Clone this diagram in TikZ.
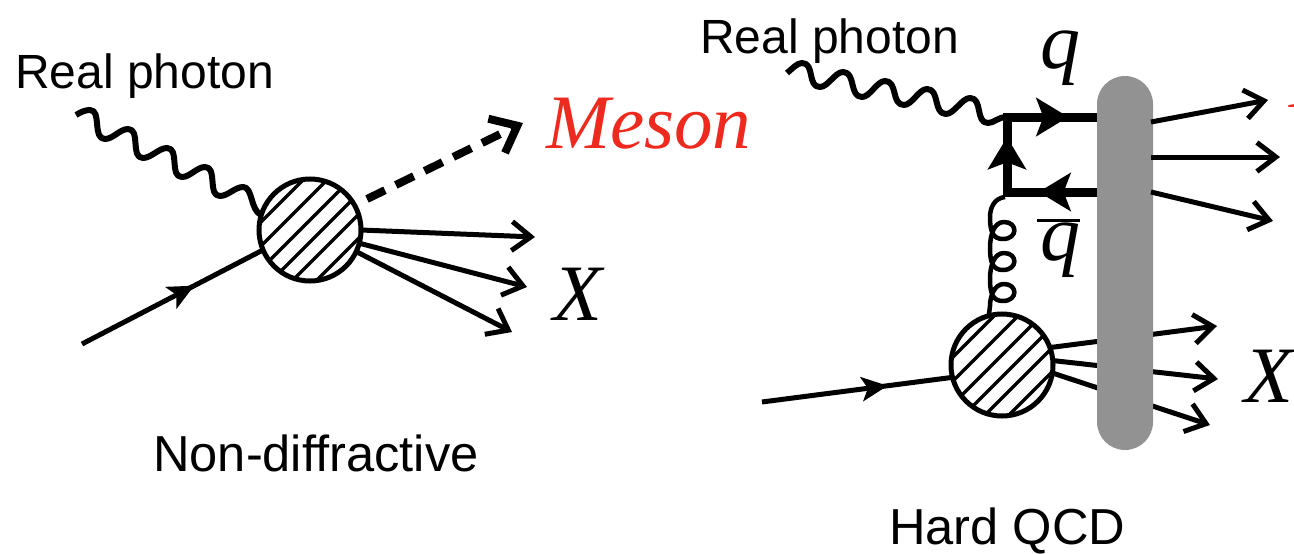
\documentclass[tikz,border=0pt]{standalone}
\usepackage{fontspec}
\setmainfont{Liberation Sans}
\newfontfamily\timesit{Liberation Serif}
\usetikzlibrary{arrows.meta,decorations.markings,calc}
\definecolor{barcol}{HTML}{929292}
\definecolor{mesonred}{HTML}{EE2A1E}
\tikzset{
  x=1pt,y=-1pt,
  ln/.style={line width=5pt},
  barb/.style={-{Straight Barb[length=19pt,width=29pt,line width=5pt]},line width=5pt},
  wave/.style={line width=6pt,line join=round},
  blob/.style={circle,draw,line width=5pt,fill=white,minimum size=102pt,inner sep=0pt,outer sep=0pt},
  hatchline/.style={line width=3.5pt},
  sanslabel/.style={font=\fontsize{48}{50}\selectfont,inner sep=0pt,anchor=base west},
  sanslarge/.style={font=\fontsize{50.6}{53}\selectfont,inner sep=0pt,anchor=base west},
  serlabel/.style={font=\fontsize{80}{84}\selectfont\timesit\itshape,inner sep=0pt,anchor=base west},
  meslabel/.style={font=\fontsize{77}{80}\selectfont\timesit\itshape,inner sep=0pt,anchor=base west,text=mesonred},
  midarrowL/.style={postaction={decorate},decoration={markings,mark=at position #1 with {\arrow{Stealth[length=26pt,width=24pt,inset=6pt]}}}},
  midarrowB/.style={postaction={decorate},decoration={markings,mark=at position #1 with {\arrow{Stealth[length=32pt,width=38pt,inset=7pt]}}}},
  quark/.style={line width=9pt},
}
\newcommand{\hatchblob}[1]{%
  \begin{scope}
    \clip (#1) circle[radius=50];
    \foreach \s in {-57,-33,-10,12,33,57}
      \draw[hatchline] ($(#1)+(\s/2-60,\s/2+60)$) -- ($(#1)+(\s/2+60,\s/2-60)$);
  \end{scope}}
\begin{document}
\begin{tikzpicture}
\useasboundingbox (0,0) rectangle (1294,554);
\clip (0,0) rectangle (1294,554);
% ---------- left diagram
\node[blob] (blobL) at (310,230) {};
\hatchblob{blobL}
\coordinate (waveLs) at (76,115);
\draw[wave] (waveLs) .. controls (81,112) and (85,110) .. (90,110)
  .. controls (102,110) and (92,139) .. (105,139)
  .. controls (113,139) and (120,129) .. (128,129)
  .. controls (141,129) and (130,158) .. (143,158)
  .. controls (151,158) and (159,148) .. (167,148)
  .. controls (180,148) and (169,177) .. (182,177)
  .. controls (190,177) and (197,167) .. (205,167)
  .. controls (218,167) and (207,196) .. (220,196)
  .. controls (228,196) and (235,187) .. (243,187)
  .. controls (253,187) and (250,210) .. (blobL.163);
\coordinate (inLs) at (82,344);
\draw[ln,midarrowL=0.62] (inLs) -- (blobL.203);
\coordinate (dashS) at (367,199);
\coordinate (dashE) at (523,123);
\draw[-{Straight Barb[length=23pt,width=38pt,line width=8pt]},line width=8pt,dash pattern=on 20pt off 12pt] (dashS) -- (dashE);
\coordinate (outL1) at (535,237);
\coordinate (outL2) at (527,287);
\coordinate (outL3) at (512,332);
\draw[barb] (blobL.0) -- (outL1);
\draw[barb] (blobL.345) -- (outL2);
\draw[barb] (blobL.335) -- (outL3);
\node[meslabel] (mesonL) at (546,148) {Meson};
\node[serlabel] (xL) at (553,320) {X};
\node[sanslabel] (rpL) at (15,88) {Real photon};
\node[sanslarge] (nd) at (153,471) {Non-diffractive};
% ---------- right diagram
\node[blob] (blobR) at (1002,365) {};
\hatchblob{blobR}
\coordinate (vTop) at (1007,117);
\coordinate (vBot) at (1007,192);
\coordinate (qTop) at (1100,117);
\coordinate (qBot) at (1100,192);
\coordinate (waveRs) at (787,73);
\draw[wave] (waveRs) .. controls (792,69) and (797,63) .. (802,63)
  .. controls (815,63) and (807,87) .. (820,87)
  .. controls (828,87) and (835,72) .. (843,72)
  .. controls (856,72) and (849,97) .. (862,97)
  .. controls (870,97) and (877,81) .. (885,81)
  .. controls (898,81) and (891,105) .. (904,105)
  .. controls (912,105) and (919,89) .. (927,89)
  .. controls (940,89) and (933,114) .. (946,114)
  .. controls (954,114) and (962,98) .. (970,98)
  .. controls (983,98) and (975,123) .. (988,123)
  .. controls (994,123) and (998,117) .. (vTop);
\draw[wave,line width=4.5pt] (vBot) ++(-2,5) .. controls (995,198) and (990,207) .. (990,217)
  .. controls (990,232) and (993,239) .. (1003,239)
  .. controls (1018,239) and (1018,222) .. (1004,222)
  .. controls (994,222) and (990,235) .. (990,248)
  .. controls (990,263) and (993,270) .. (1003,270)
  .. controls (1018,270) and (1018,253) .. (1004,253)
  .. controls (994,253) and (990,266) .. (990,279)
  .. controls (990,294) and (993,301) .. (1003,301)
  .. controls (1018,301) and (1018,284) .. (1004,284)
  .. controls (994,284) and (990,297) .. (990,306)
  -- (blobR.105);
\draw[quark,line cap=rect,midarrowB=0.73] (vBot) -- (vTop);
\draw[quark,midarrowB=0.66] (vTop) -- (qTop);
\draw[quark,midarrowB=0.66] (qBot) -- (vBot);
\coordinate (inRs) at (762,402);
\draw[ln,midarrowL=0.66] (inRs) -- (blobR.194);
\coordinate (tipB1) at (1217,326);
\coordinate (tipB2) at (1218,379);
\coordinate (tipB3) at (1210,425);
\draw[barb] (blobR.20) -- (tipB1);
\draw[barb] (blobR.5) -- (tipB2);
\draw[barb] (blobR.351) -- (tipB3);
\node[rectangle,fill=barcol,minimum width=56pt,minimum height=374pt,rounded corners=28pt,inner sep=0pt,outer sep=0pt] (bar) at (1125,263) {};
\coordinate (upS1) at (1151,122);
\coordinate (upS2) at (1151,157);
\coordinate (upS3) at (1151,192);
\coordinate (tipU1) at (1268,100);
\coordinate (tipU2) at (1280,157);
\coordinate (tipU3) at (1273,221);
\draw[barb] (upS1) -- (tipU1);
\draw[barb] (upS2) -- (tipU2);
\draw[barb] (upS3) -- (tipU3);
\node[sanslabel] (rpR) at (700,53) {Real photon};
\node[sanslarge] (hq) at (889,544) {Hard QCD};
\node[serlabel] (q) at (1040,68) {q};
\node[serlabel] (qbar) at (1040,260) {\rlap{\kern-3pt\raisebox{38pt}{\upshape\rule{43pt}{3.5pt}}}q};
\node[serlabel] (xR) at (1244,402) {X};
\node[meslabel] (mesonR) at (1289,107) {Meson};
\end{tikzpicture}
\end{document}
